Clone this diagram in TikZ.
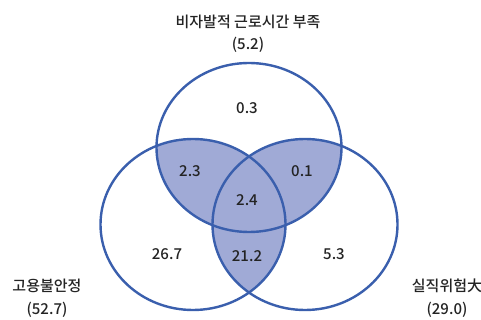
\documentclass[tikz,border=0pt]{standalone}
\usepackage{fontspec}
\setmainfont{Noto Sans CJK KR}
\newfontfamily\medfont{Noto Sans CJK KR Medium}
\begin{document}
\begin{tikzpicture}[x=1pt,y=-1pt,
  ring/.style={draw=ringblue,line width=2.4pt},
  lbl/.style={font=\medfont\fontsize{15}{17}\selectfont,text=txtgray,inner sep=0pt,align=center},
  num/.style={font=\medfont\fontsize{15}{17}\selectfont,text=txtgray,inner sep=0pt}]
\definecolor{ringblue}{RGB}{58,95,173}
\definecolor{fillblue}{RGB}{160,170,214}
\definecolor{txtgray}{RGB}{35,35,35}
\useasboundingbox (0,0) rectangle (481,320);
\def\topE{(249,147.5) ellipse [x radius=92.5, y radius=84.5]}
\def\leftE{(193,224.5) ellipse [x radius=92.5, y radius=85.5]}
\def\rightE{(305,224.5) ellipse [x radius=92.5, y radius=85.5]}
\begin{scope}\clip \topE; \fill[fillblue] \leftE; \end{scope}
\begin{scope}\clip \topE; \fill[fillblue] \rightE; \end{scope}
\begin{scope}\clip \leftE; \fill[fillblue] \rightE; \end{scope}
\draw[ring] \topE;
\draw[ring] \leftE;
\draw[ring] \rightE;
\node[lbl] (ttop) at (248,22) {비자발적 근로시간 부족};
\node[lbl] (vtop) at (248,45) {(5.2)};
\node[lbl] (tleft) at (47,286) {고용불안정};
\node[lbl] (vleft) at (47,310) {(52.7)};
\node[lbl] (tright) at (447,286) {실직위험大};
\node[lbl] (vright) at (447,310) {(29.0)};
\node[num] (n1) at (247,108) {0.3};
\node[num] (n2) at (190,171) {2.3};
\node[num] (n3) at (302,171) {0.1};
\node[num] (n4) at (247,200) {2.4};
\node[num] (n5) at (167,254) {26.7};
\node[num] (n6) at (247,256) {21.2};
\node[num] (n7) at (334,254) {5.3};
\end{tikzpicture}
\end{document}
